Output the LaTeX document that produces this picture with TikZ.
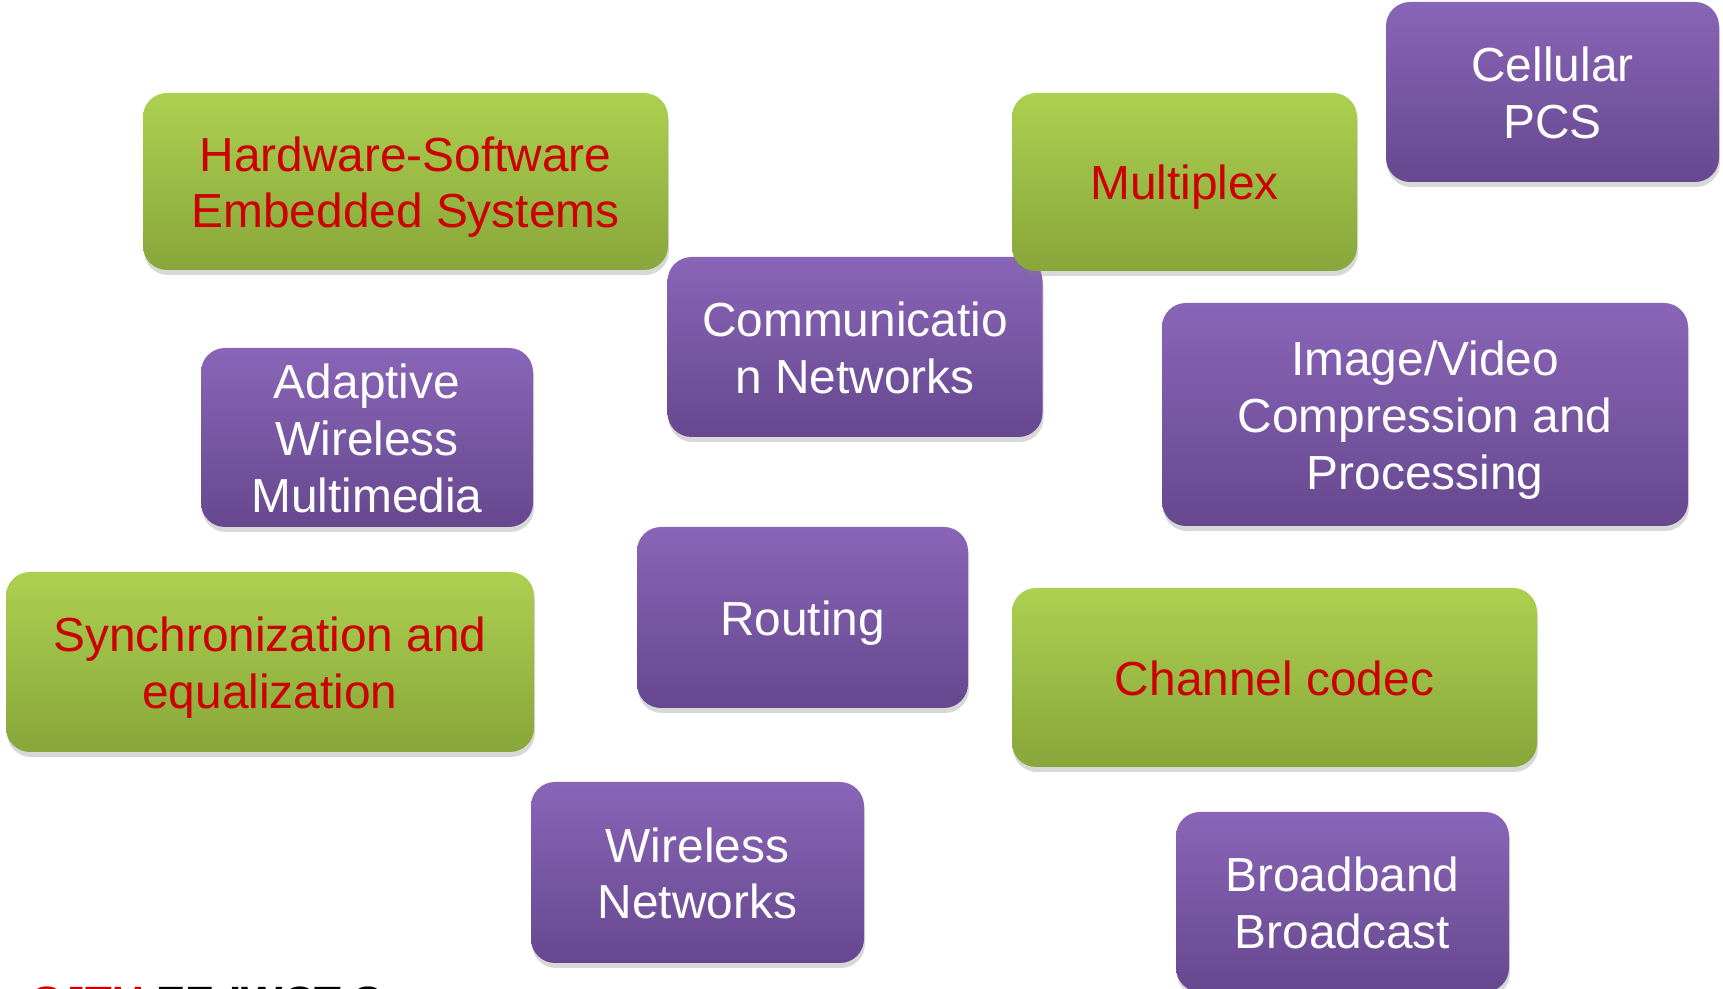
\documentclass[tikz,border=0pt]{standalone}
\usepackage{fontspec}
\setmainfont{Liberation Sans}
\usetikzlibrary{shadows}
\definecolor{greentop}{RGB}{172,208,80}
\definecolor{greenbot}{RGB}{136,166,58}
\definecolor{purpletop}{RGB}{137,101,183}
\definecolor{purplebot}{RGB}{102,72,143}
\definecolor{boxred}{RGB}{204,0,0}
\newcommand\boxstrut{\vrule width 0pt height 46bp depth 10bp}
\begin{document}
\begin{tikzpicture}[>=latex,line join=bevel,
  box/.style={rectangle,rounded corners=24bp,inner sep=0pt,align=center,
    font=\fontsize{48}{57}\selectfont,
    execute at end node=\boxstrut,
    drop shadow={shadow xshift=1bp,shadow yshift=-5bp,opacity=0.3}},
  greenbox/.style={box,top color=greentop,bottom color=greenbot,text=boxred},
  purplebox/.style={box,top color=purpletop,bottom color=purplebot,text=white},
]
%%
\useasboundingbox (0bp,0bp) rectangle (1723bp,989bp);
\clip (0bp,0bp) rectangle (1723bp,989bp);
\fill [white] (0bp,0bp) rectangle (1723bp,989bp);
  \node (node_0) at (855.0bp,642.0bp) [purplebox,minimum width=375bp,minimum height=180bp] {\boxstrut Communicatio\\n Networks};
  \node (node_1) at (405.5bp,807.5bp) [greenbox,minimum width=525bp,minimum height=177bp] {\boxstrut Hardware-Software\\Embedded Systems};
  \node (node_2) at (1184.5bp,807.0bp) [greenbox,minimum width=345bp,minimum height=178bp] {\boxstrut Multiplex};
  \node (node_3) at (1552.5bp,897.0bp) [purplebox,minimum width=333bp,minimum height=180bp] {\boxstrut Cellular\\PCS};
  \node (node_4) at (367.0bp,551.5bp) [purplebox,minimum width=332bp,minimum height=179bp] {\boxstrut Adaptive\\Wireless\\Multimedia};
  \node (node_5) at (1425.0bp,574.5bp) [purplebox,minimum width=526bp,minimum height=223bp] {\boxstrut Image/Video\\Compression and\\Processing};
  \node (node_6) at (270.0bp,327.0bp) [greenbox,minimum width=528bp,minimum height=180bp] {\boxstrut Synchronization and\\equalization};
  \node (node_7) at (802.5bp,371.5bp) [purplebox,minimum width=331bp,minimum height=181bp] {\boxstrut Routing};
  \node (node_8) at (1274.5bp,311.5bp) [greenbox,minimum width=525bp,minimum height=179bp] {\boxstrut Channel codec};
  \node (node_9) at (697.5bp,116.5bp) [purplebox,minimum width=333bp,minimum height=181bp] {\boxstrut Wireless\\Networks};
  \node (node_10) at (1342.5bp,87.0bp) [purplebox,minimum width=333bp,minimum height=180bp] {\boxstrut Broadband\\Broadcast};
  \node (node_11) at (32.0bp,-28.5bp) [anchor=base west,inner sep=0pt,font=\fontsize{44}{50}\selectfont\bfseries] {\textcolor{boxred}{SJTU} EE-IWCT S};
%
\end{tikzpicture}
\end{document}
